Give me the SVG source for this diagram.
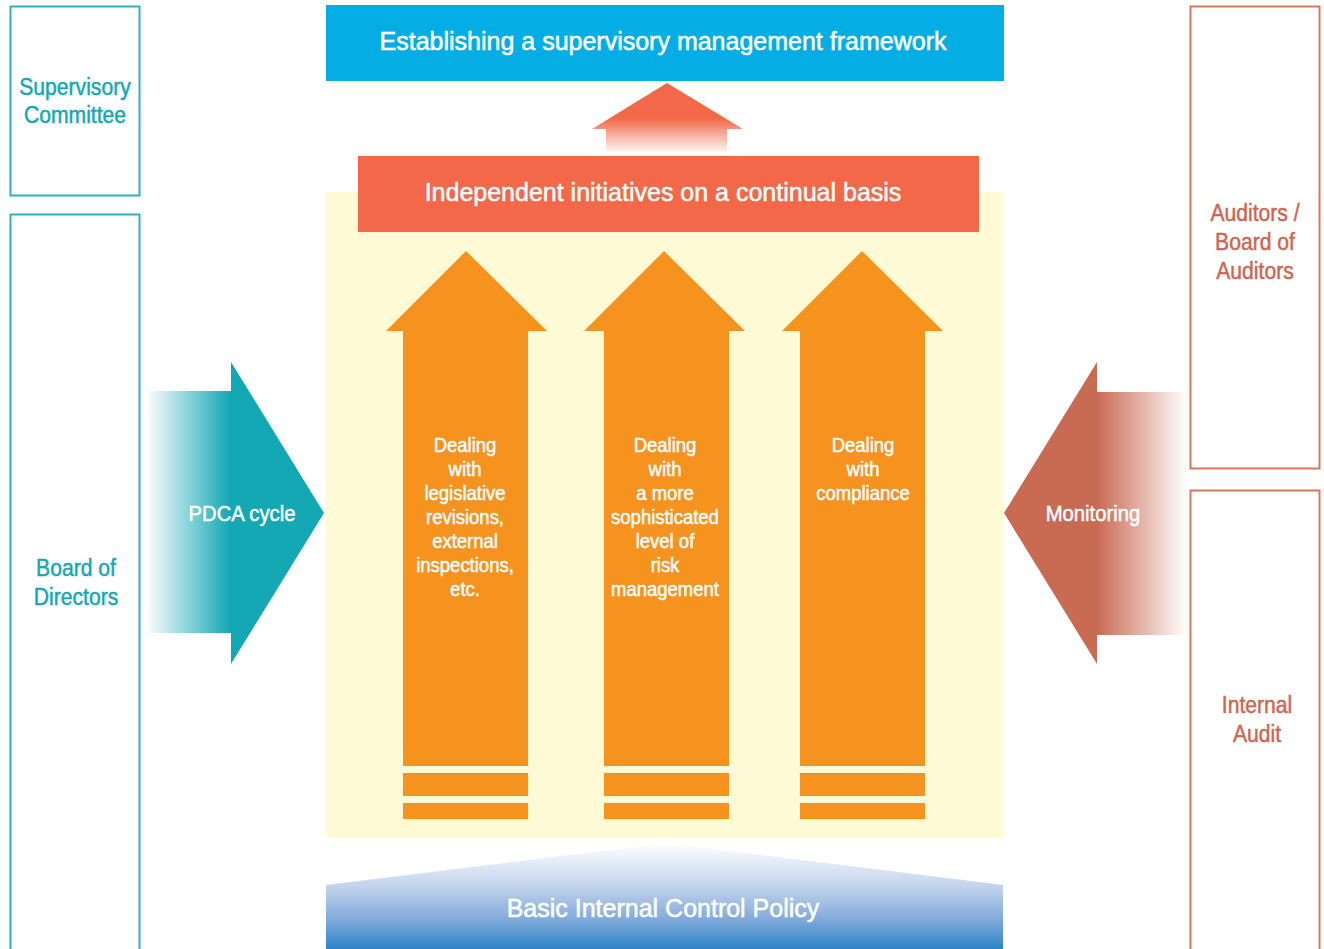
<svg xmlns="http://www.w3.org/2000/svg" width="1324" height="949" viewBox="0 0 1324 949">
<defs>
<style>
text{font-family:"Liberation Sans","Arial",sans-serif;stroke-width:0.5;}
.wt{fill:#ffffff;stroke:#ffffff;text-anchor:middle;}
.teal{fill:#13a8b4;stroke:#13a8b4;text-anchor:middle;font-size:24px;}
.rust{fill:#cd6650;stroke:#cd6650;text-anchor:middle;font-size:24px;}
.boxT{fill:#ffffff;stroke:#2bb2bd;stroke-width:2;}
.boxR{fill:#ffffff;stroke:#d8765f;stroke-width:2;}
.orange{fill:#f6921e;}
.atext{font-size:21px;}
.big{font-size:25px;}
</style>
<linearGradient id="gTeal" gradientUnits="userSpaceOnUse" x1="146" y1="0" x2="230" y2="0">
<stop offset="0" stop-color="#ffffff"/>
<stop offset="1" stop-color="#13a8b4"/>
</linearGradient>
<linearGradient id="gRust" gradientUnits="userSpaceOnUse" x1="1097" y1="0" x2="1187" y2="0">
<stop offset="0" stop-color="#c96a53"/>
<stop offset="1" stop-color="#ffffff"/>
</linearGradient>
<linearGradient id="gTop" gradientUnits="userSpaceOnUse" x1="0" y1="83" x2="0" y2="154">
<stop offset="0" stop-color="#f26849"/>
<stop offset="0.5" stop-color="#f26849"/>
<stop offset="1" stop-color="#ffffff"/>
</linearGradient>
<linearGradient id="gBlue" gradientUnits="userSpaceOnUse" x1="0" y1="843" x2="0" y2="949">
<stop offset="0" stop-color="#ffffff"/>
<stop offset="0.4" stop-color="#c3d4ec"/>
<stop offset="0.7" stop-color="#86addc"/>
<stop offset="1" stop-color="#2c83c6"/>
</linearGradient>
</defs>
<rect width="1324" height="949" fill="#ffffff"/>

<g id="background">
<rect x="326" y="192" width="677" height="646" fill="#fffad6"/>
</g>

<g id="supervisory-committee">
<rect class="boxT" x="10.5" y="6.5" width="129" height="189"/>
<text class="teal" transform="translate(75,0) scale(0.88,1)"><tspan x="0" y="95">Supervisory</tspan><tspan x="0" y="123">Committee</tspan></text>
</g>

<g id="board-of-directors">
<rect class="boxT" x="10.5" y="214.5" width="129" height="740"/>
<text class="teal" transform="translate(76,0) scale(0.88,1)"><tspan x="0" y="576">Board of</tspan><tspan x="0" y="605">Directors</tspan></text>
</g>

<g id="auditors">
<rect class="boxR" x="1190.5" y="6.5" width="129" height="462"/>
<text class="rust" transform="translate(1255,0) scale(0.88,1)"><tspan x="0" y="221">Auditors /</tspan><tspan x="0" y="250">Board of</tspan><tspan x="0" y="279">Auditors</tspan></text>
</g>

<g id="internal-audit">
<rect class="boxR" x="1190.5" y="490.5" width="129" height="470"/>
<text class="rust" transform="translate(1257,0) scale(0.88,1)"><tspan x="0" y="713">Internal</tspan><tspan x="0" y="742">Audit</tspan></text>
</g>

<g id="framework">
<rect x="326" y="5" width="678" height="76" fill="#04aee4"/>
<text class="wt big" x="663" y="50">Establishing a supervisory management framework</text>
</g>

<g id="independent-initiatives">
<rect x="358" y="156" width="621" height="76" fill="#f26849"/>
<text class="wt big" x="663" y="201">Independent initiatives on a continual basis</text>
</g>

<g id="legislative">
<polygon class="orange" points="466,251 547,331 528,331 528,766 403,766 403,331 386,331"/>
<rect class="orange" x="403" y="773" width="125" height="23"/>
<rect class="orange" x="403" y="803" width="125" height="16"/>
<text class="wt atext" transform="translate(465,0) scale(0.88,1)"><tspan x="0" y="452">Dealing</tspan><tspan x="0" y="476">with</tspan><tspan x="0" y="500">legislative</tspan><tspan x="0" y="524">revisions,</tspan><tspan x="0" y="548">external</tspan><tspan x="0" y="572">inspections,</tspan><tspan x="0" y="596">etc.</tspan></text>
</g>

<g id="risk-management">
<polygon class="orange" points="664,251 745,331 729,331 729,766 604,766 604,331 584,331"/>
<rect class="orange" x="604" y="773" width="125" height="23"/>
<rect class="orange" x="604" y="803" width="125" height="16"/>
<text class="wt atext" transform="translate(665,0) scale(0.88,1)"><tspan x="0" y="452">Dealing</tspan><tspan x="0" y="476">with</tspan><tspan x="0" y="500">a more</tspan><tspan x="0" y="524">sophisticated</tspan><tspan x="0" y="548">level of</tspan><tspan x="0" y="572">risk</tspan><tspan x="0" y="596">management</tspan></text>
</g>

<g id="compliance">
<polygon class="orange" points="862,251 943,331 925,331 925,766 800,766 800,331 782,331"/>
<rect class="orange" x="800" y="773" width="125" height="23"/>
<rect class="orange" x="800" y="803" width="125" height="16"/>
<text class="wt atext" transform="translate(863,0) scale(0.88,1)"><tspan x="0" y="452">Dealing</tspan><tspan x="0" y="476">with</tspan><tspan x="0" y="500">compliance</tspan></text>
</g>

<g id="basic-policy">
<polygon points="665,843 1003,885 1003,949 326,949 326,885" fill="url(#gBlue)"/>
<text class="wt big" x="663" y="917">Basic Internal Control Policy</text>
</g>

<g id="connectors">
<polygon points="667,83 743,129 727,129 727,154 606,154 606,129 592,129" fill="url(#gTop)"/>
<rect x="146" y="391" width="86" height="242" fill="url(#gTeal)"/>
<polygon points="231,362 324,513 231,664" fill="#13a8b4"/>
<text class="wt" font-size="22.5" transform="translate(242,0) scale(0.9,1)" x="0" y="521">PDCA cycle</text>
<rect x="1096" y="392" width="91" height="243" fill="url(#gRust)"/>
<polygon points="1097,362 1004,513 1097,664" fill="#c96a53"/>
<text class="wt" font-size="22.5" transform="translate(1093,0) scale(0.9,1)" x="0" y="521">Monitoring</text>
</g>
</svg>
